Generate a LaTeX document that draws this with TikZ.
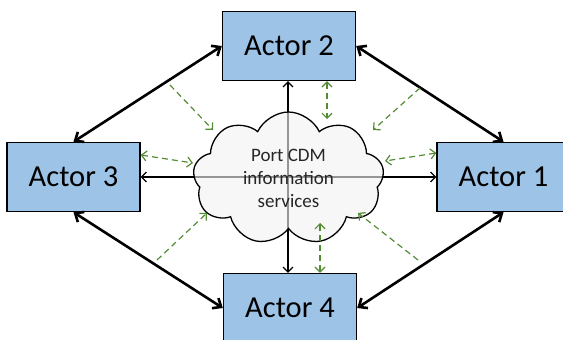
\documentclass[tikz,border=0pt]{standalone}
\usepackage{fontspec}
\setmainfont{Carlito}
\usetikzlibrary{arrows.meta,shapes.symbols}
\definecolor{boxblue}{RGB}{157,195,230}
\definecolor{dgreen}{RGB}{84,140,52}
\definecolor{cloudgray}{RGB}{242,242,242}
\tikzset{
  actor/.style={draw=black,line width=1.4pt,fill=boxblue,minimum width=133pt,minimum height=69pt,inner sep=0pt,font=\fontsize{30.5}{36}\selectfont},
  bigarrow/.style={line width=2.6pt,{Straight Barb[length=7pt,width=12pt]}-{Straight Barb[length=7pt,width=12pt]}},
  thinarrow/.style={line width=1.1pt,{Straight Barb[length=5pt,width=10pt]}-{Straight Barb[length=5pt,width=10pt]}},
  greenone/.style={draw=dgreen,line width=1.2pt,dash pattern=on 6pt off 4pt,-{Straight Barb[length=5pt,width=10pt]}},
  greentwo/.style={draw=dgreen,line width=1.2pt,dash pattern=on 6pt off 4pt,{Straight Barb[length=5pt,width=10pt]}-{Straight Barb[length=5pt,width=10pt]}},
}
\begin{document}
\begin{tikzpicture}[x=1pt,y=-1pt]
\useasboundingbox (0,0) rectangle (563,340);
\node[actor] (a2) at (289,46) {Actor 2};
\node[actor] (a3) at (73.5,177) {Actor 3};
\node[actor] (a1) at (503.5,177) {Actor 1};
\node[actor] (a4) at (290,308) {Actor 4};
% crosshair arrows
\draw[thinarrow] (a2.south -| 288,0) -- (a4.north -| 288,0);
\draw[thinarrow] (a3.east |- 0,177) -- (a1.west |- 0,177);
% cloud
\node[cloud,cloud puffs=9,cloud puff arc=130,aspect=1.45,draw=black,line width=1.3pt,fill=cloudgray,fill opacity=0.62,text opacity=1,minimum width=191pt,minimum height=133pt,inner sep=0pt,align=center,text=black!85,font=\fontsize{19}{23}\selectfont] (cloud) at (288.5,178.5) {Port CDM\\information\\services};
% big double arrows
\draw[bigarrow] (a3.north) -- (a2.west);
\draw[bigarrow] (a2.east) -- (a1.north);
\draw[bigarrow] (a3.south) -- (a4.west);
\draw[bigarrow] (a4.east) -- (a1.south);
% green dashed
\coordinate (s1) at (170,85);   \coordinate (t1) at (213,130);
\coordinate (s2) at (420,88);   \coordinate (t2) at (373,130);
\coordinate (s3) at (418,260);  \coordinate (t3) at (358,213);
\coordinate (s4) at (157,260);  \coordinate (t4) at (207,213);
\coordinate (c3) at (193,163);
\coordinate (c1) at (385,161);
\coordinate (c2) at (327,119);
\coordinate (c4) at (320,223);
\draw[greenone] (s1) -- (t1);
\draw[greenone] (s2) -- (t2);
\draw[greenone] (s3) -- (t3);
\draw[greenone] (s4) -- (t4);
\draw[greentwo] (a3.east |- 0,155) -- (c3);
\draw[greentwo] (a1.west |- 0,153) -- (c1);
\draw[greentwo] (a2.south -| c2) -- (c2);
\draw[greentwo] (a4.north -| c4) -- (c4);
\end{tikzpicture}
\end{document}
